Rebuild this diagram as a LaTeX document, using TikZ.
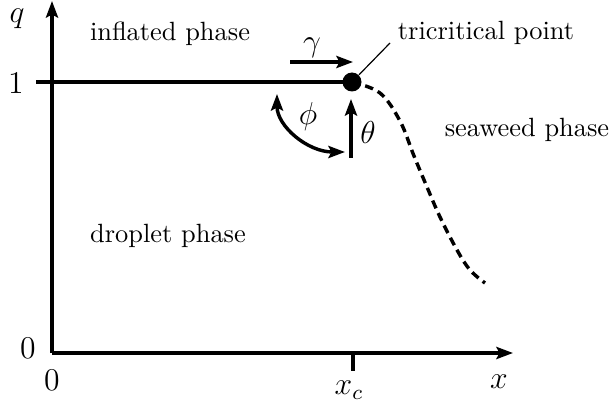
\documentclass[tikz,border=0pt]{standalone}
\usetikzlibrary{arrows.meta}
\begin{document}
\begin{tikzpicture}[x=0.379pt,y=0.379pt,
  thickline/.style={line width=1.3pt},
  tip/.tip={Stealth[length=6.3pt,width=4.6pt,inset=1.2pt]},
  arr/.style={thickline,-tip},
  lbl/.style={inner sep=0pt},
  mlbl/.style={inner sep=0pt,font=\large}]
\useasboundingbox (0,0) rectangle (613,406);
% axes
\coordinate (O) at (52,53);
\coordinate (ytop) at (52,405);
\coordinate (xend) at (513,53);
\draw[arr] (O) -- (ytop);
\draw[arr] (O) -- (xend);
% ticks
\coordinate (xc) at (353,53);
\coordinate (xcb) at (353,35);
\draw[thickline] (xc) -- (xcb);
% q = 1 line
\coordinate (qstart) at (36,324);
\node[circle,fill=black,inner sep=0pt,minimum size=19*0.379pt] (tc) at (352,324) {};
\draw[thickline] (qstart) -- (tc.center);
% dashed curve
\draw[thickline,dash pattern=on 3.2pt off 2pt] plot[smooth,tension=0.6] coordinates
  {(352,324) (380,313) (400,285) (414,250) (427,219) (440,189) (457,156) (470,136) (485,123)};
% leader line
\coordinate (lead) at (390,363);
\draw[line width=0.45pt] (tc) -- (lead);
% gamma arrow
\coordinate (g1) at (290,344);
\coordinate (g2) at (353,344);
\draw[arr] (g1) -- (g2);
% theta arrow
\coordinate (t1) at (351,248);
\coordinate (t2) at (351,307);
\draw[arr] (t1) -- (t2);
% phi arc
\coordinate (p1) at (277,312);
\draw[thickline,tip-tip]
  (p1) arc[start angle=180,end angle=270,x radius=68,y radius=58];
% labels
\node[mlbl] (lq) at (17,387) {$q$};
\node[mlbl] (l1) at (16,323) {$1$};
\node[mlbl] (l0y) at (28,58) {$0$};
\node[mlbl] (l0x) at (52,26) {$0$};
\node[mlbl] (lxc) at (349,16) {$x_c$};
\node[mlbl] (lx) at (499,24) {$x$};
\node[mlbl] (lgam) at (312,358) {$\gamma$};
\node[mlbl] (lth) at (368,273) {$\theta$};
\node[mlbl] (lphi) at (308,289) {$\phi$};
\node[lbl,anchor=base] (infl) at (170,365) {inflated phase};
\node[lbl,anchor=base] (tri) at (486,366) {tricritical point};
\node[lbl,anchor=base] (drop) at (168,163) {droplet phase};
\node[lbl,anchor=base] (sea) at (527,269) {seaweed phase};
\end{tikzpicture}
\end{document}
